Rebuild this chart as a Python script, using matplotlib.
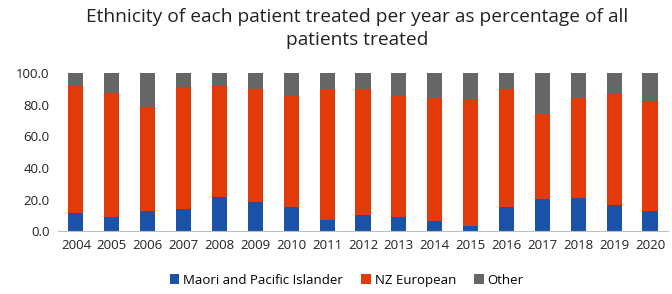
import matplotlib.pyplot as plt
import numpy as np

years = [str(y) for y in range(2004, 2021)]
maori = [11.2, 8.7, 12.5, 13.7, 21.8, 18.6, 15.0, 7.0, 10.1, 8.9, 6.3, 3.2, 15.2, 20.1, 21.1, 16.3, 12.7]
nz_top = [92.0, 87.7, 78.4, 91.1, 92.2, 89.9, 85.4, 89.9, 89.9, 85.6, 84.6, 83.9, 90.3, 74.4, 84.6, 86.7, 82.2]
nz_euro = [t - m for t, m in zip(nz_top, maori)]
other = [100 - t for t in nz_top]

plt.rcParams['font.family'] = ['Open Sans', 'DejaVu Sans']

fig = plt.figure(figsize=(6.72, 2.94), dpi=100)
ax = fig.add_axes([0.0863, 0.214, 0.9077, 0.537])

x = np.arange(len(years))
w = 0.42
ax.bar(x, maori, w, color='#1a52a8', label='Maori and Pacific Islander')
ax.bar(x, nz_euro, w, bottom=maori, color='#e23a08', label='NZ European')
ax.bar(x, other, w, bottom=nz_top, color='#666666', label='Other')

ax.set_xlim(-0.5, len(years) - 0.5)
ax.set_ylim(0, 100)
ax.set_xticks(x)
ax.set_xticklabels(years, fontsize=9.5, color='#222222')
ax.set_yticks(range(0, 101, 20))
ax.set_yticklabels(['%.1f' % v for v in range(0, 101, 20)], fontsize=9.5, color='#222222')
ax.tick_params(length=0, pad=6)
for s in ['top', 'right', 'left']:
    ax.spines[s].set_visible(False)
ax.spines['bottom'].set_color('#bfbfbf')

fig.suptitle('Ethnicity of each patient treated per year as percentage of all\npatients treated',
             fontsize=13.8, x=0.531, y=0.972, color='#222222', linespacing=1.35)

fig.legend(loc='lower center', bbox_to_anchor=(0.516, -0.015), ncol=3, frameon=False,
           fontsize=9.5, handlelength=0.7, handleheight=0.7, handletextpad=0.3, columnspacing=1.4)

fig.savefig('out.png', dpi=100)
